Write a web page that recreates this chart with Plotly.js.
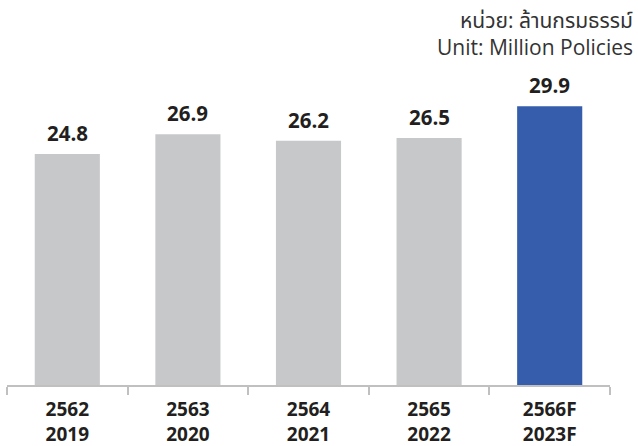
<!DOCTYPE html>
<html>
<head>
<meta charset="utf-8">
<script src="https://cdn.plot.ly/plotly-3.0.1.min.js"></script>
<style>html,body{margin:0;padding:0;background:#fff;}#chart{width:638px;height:446px;}</style>
</head>
<body>
<div id="chart"></div>
<script>
const thaiYears = ["2562", "2563", "2564", "2565", "2566F"];
const westYears = ["2019", "2020", "2021", "2022", "2023F"];
const policies = [24.8, 26.9, 26.2, 26.5, 29.9];
const barColors = ["#c7c8ca", "#c7c8ca", "#c7c8ca", "#c7c8ca", "#355dab"];
const unitThai = "หน่วย: ล้านกรมธรรม์";
const unitEng = "Unit: Million Policies";

const categories = thaiYears.map((t, i) => t + "<br>" + westYears[i]);
const font = "'Open Sans', 'Noto Sans', 'Noto Sans Thai', sans-serif";

const valueLabels = policies.map((v, i) => ({
  x: categories[i], y: v, xref: "x", yref: "y",
  text: "<b>" + v.toFixed(1) + "</b>", showarrow: false,
  yanchor: "bottom", yshift: 5,
  font: {family: font, size: 20.5, color: "#231f20"}
}));

const layout = {
  width: 638, height: 446,
  margin: {l: 7, r: 28, t: 70, b: 61},
  paper_bgcolor: "#ffffff", plot_bgcolor: "#ffffff",
  showlegend: false,
  bargap: 0.46,
  xaxis: {
    type: "category",
    showline: true, linecolor: "#c0c0c0", linewidth: 2,
    ticks: "outside", tickson: "boundaries", ticklen: 8, tickwidth: 2, tickcolor: "#c0c0c0",
    ticklabelstandoff: 6,
    tickfont: {family: font, size: 19, color: "#231f20", weight: "bold"},
    showgrid: false, zeroline: false, fixedrange: true
  },
  yaxis: {
    range: [0, 33.8], visible: false, showgrid: false, zeroline: false, fixedrange: true
  },
  annotations: valueLabels.concat([
    {xref: "paper", yref: "paper", x: 1, y: 1, xanchor: "right", yanchor: "bottom",
     xshift: 25, yshift: 34, text: unitThai, showarrow: false,
     font: {family: font, size: 21, color: "#333333"}},
    {xref: "paper", yref: "paper", x: 1, y: 1, xanchor: "right", yanchor: "bottom",
     xshift: 25, yshift: 7, text: unitEng, showarrow: false,
     font: {family: font, size: 21, color: "#333333"}}
  ])
};

Plotly.newPlot("chart", [{
  type: "bar",
  x: categories,
  y: policies,
  marker: {color: barColors},
  hoverinfo: "none"
}], layout, {displayModeBar: false, staticPlot: true});
</script>
</body>
</html>
